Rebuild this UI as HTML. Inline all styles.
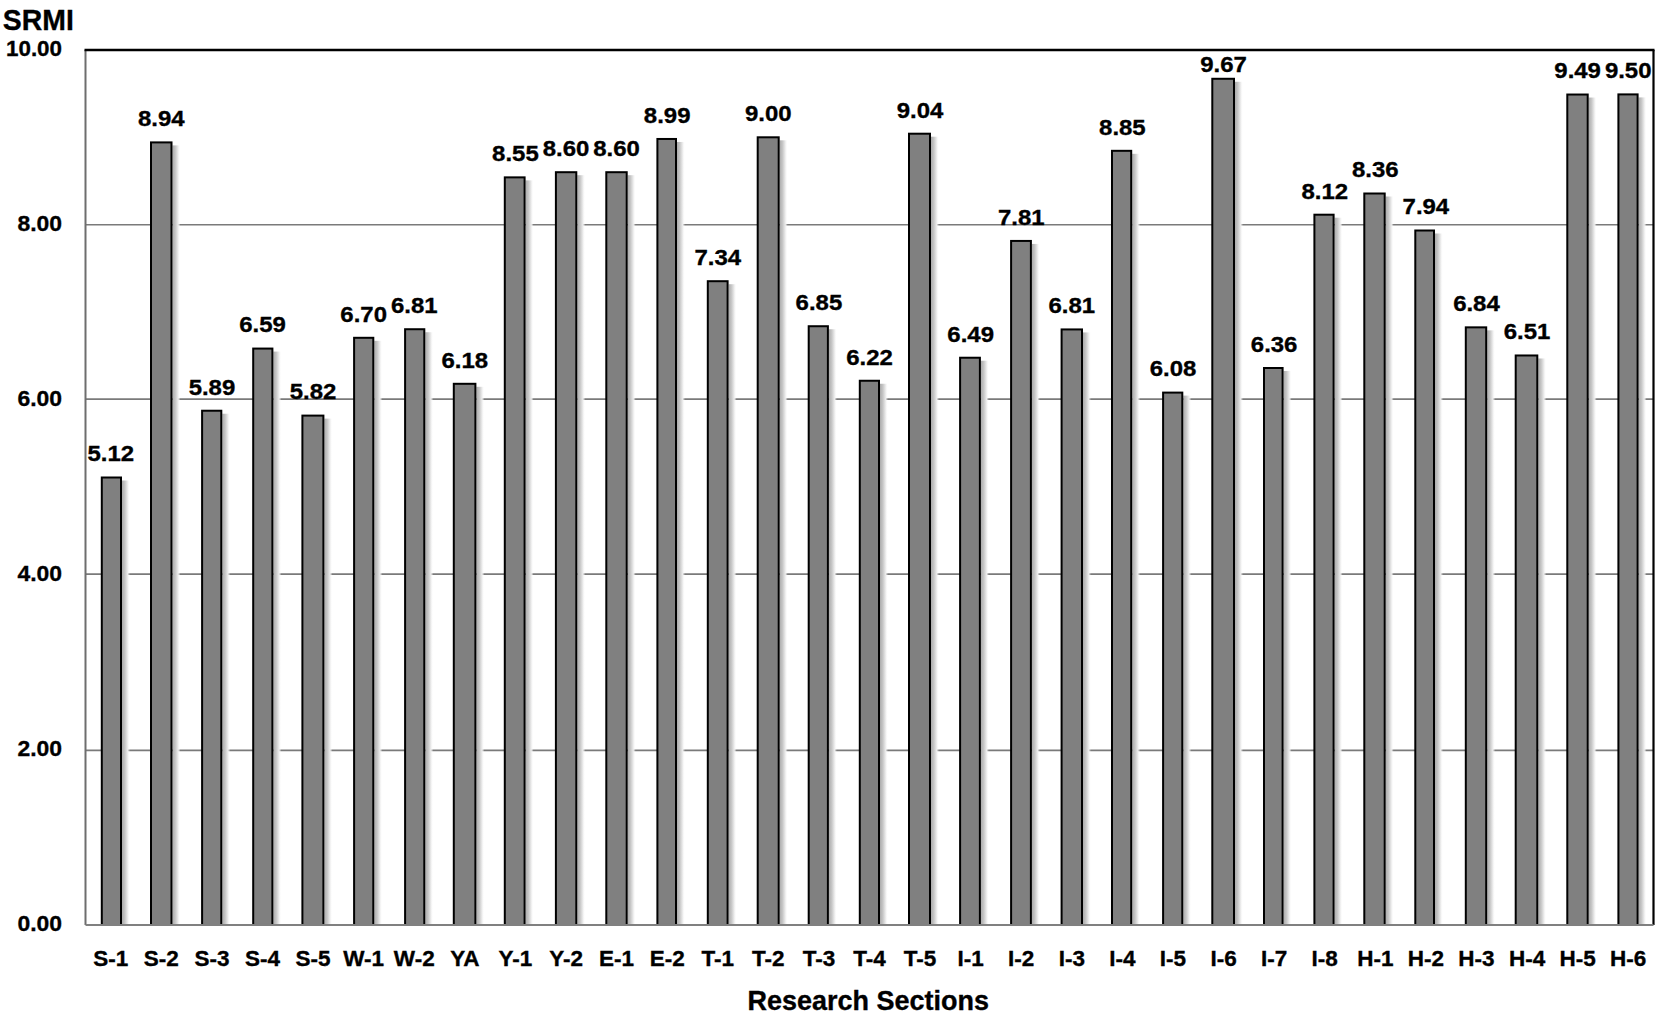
<!DOCTYPE html>
<html><head><meta charset="utf-8"><style>
html,body{margin:0;padding:0;background:#fff;}
svg{display:block;}
text{font-family:"Liberation Sans", sans-serif;font-weight:bold;fill:#000;stroke:#000;stroke-width:0.35px;}
</style></head><body>
<svg width="1665" height="1016" viewBox="0 0 1665 1016">
<defs>
<linearGradient id="sh" x1="0" x2="1" y1="0" y2="0">
<stop offset="0" stop-color="#acacac"/><stop offset="0.35" stop-color="#c6c6c6"/><stop offset="0.7" stop-color="#ececec"/><stop offset="1" stop-color="#fff" stop-opacity="0"/>
</linearGradient>
</defs>
<rect x="0" y="0" width="1665" height="1016" fill="#fff"/>

<line x1="85.5" y1="750.4" x2="1653.5" y2="750.4" stroke="#7a7a7a" stroke-width="1.6"/>
<line x1="85.5" y1="574.1" x2="1653.5" y2="574.1" stroke="#7a7a7a" stroke-width="1.6"/>
<line x1="85.5" y1="399.1" x2="1653.5" y2="399.1" stroke="#7a7a7a" stroke-width="1.6"/>
<line x1="85.5" y1="224.7" x2="1653.5" y2="224.7" stroke="#7a7a7a" stroke-width="1.6"/>
<line x1="85.5" y1="925.0" x2="85.5" y2="50.0" stroke="#6e6e6e" stroke-width="2"/>
<line x1="84.5" y1="50.0" x2="1654.5" y2="50.0" stroke="#000" stroke-width="2.5"/>
<line x1="1653.5" y1="50.0" x2="1653.5" y2="925.0" stroke="#000" stroke-width="2.2"/>
<rect x="122.00" y="480.50" width="8" height="444.50" fill="url(#sh)"/>
<rect x="101.80" y="477.50" width="19.20" height="447.50" fill="#808080" stroke="#000" stroke-width="2"/>
<text x="110.79" y="461.30" font-size="22.4" textLength="46.6" lengthAdjust="spacingAndGlyphs" text-anchor="middle">5.12</text>
<text x="110.79" y="966.00" font-size="22.5" text-anchor="middle">S-1</text>
<rect x="172.50" y="145.40" width="8" height="779.60" fill="url(#sh)"/>
<rect x="151.00" y="142.40" width="20.50" height="782.60" fill="#808080" stroke="#000" stroke-width="2"/>
<text x="161.37" y="126.20" font-size="22.4" textLength="46.6" lengthAdjust="spacingAndGlyphs" text-anchor="middle">8.94</text>
<text x="161.37" y="966.00" font-size="22.5" text-anchor="middle">S-2</text>
<rect x="222.30" y="413.73" width="8" height="511.27" fill="url(#sh)"/>
<rect x="202.10" y="410.73" width="19.20" height="514.27" fill="#808080" stroke="#000" stroke-width="2"/>
<text x="211.95" y="394.53" font-size="22.4" textLength="46.6" lengthAdjust="spacingAndGlyphs" text-anchor="middle">5.89</text>
<text x="211.95" y="966.00" font-size="22.5" text-anchor="middle">S-3</text>
<rect x="273.40" y="351.57" width="8" height="573.42" fill="url(#sh)"/>
<rect x="253.20" y="348.57" width="19.20" height="576.42" fill="#808080" stroke="#000" stroke-width="2"/>
<text x="262.53" y="332.38" font-size="22.4" textLength="46.6" lengthAdjust="spacingAndGlyphs" text-anchor="middle">6.59</text>
<text x="262.53" y="966.00" font-size="22.5" text-anchor="middle">S-4</text>
<rect x="324.40" y="418.60" width="8" height="506.40" fill="url(#sh)"/>
<rect x="302.40" y="415.60" width="21.00" height="509.40" fill="#808080" stroke="#000" stroke-width="2"/>
<text x="313.11" y="399.40" font-size="22.4" textLength="46.6" lengthAdjust="spacingAndGlyphs" text-anchor="middle">5.82</text>
<text x="313.11" y="966.00" font-size="22.5" text-anchor="middle">S-5</text>
<rect x="374.30" y="340.80" width="8" height="584.20" fill="url(#sh)"/>
<rect x="354.10" y="337.80" width="19.20" height="587.20" fill="#808080" stroke="#000" stroke-width="2"/>
<text x="363.69" y="321.60" font-size="22.4" textLength="46.6" lengthAdjust="spacingAndGlyphs" text-anchor="middle">6.70</text>
<text x="363.69" y="966.00" font-size="22.5" text-anchor="middle">W-1</text>
<rect x="425.30" y="332.23" width="8" height="592.77" fill="url(#sh)"/>
<rect x="405.10" y="329.23" width="19.20" height="595.77" fill="#808080" stroke="#000" stroke-width="2"/>
<text x="414.27" y="313.03" font-size="22.4" textLength="46.6" lengthAdjust="spacingAndGlyphs" text-anchor="middle">6.81</text>
<text x="414.27" y="966.00" font-size="22.5" text-anchor="middle">W-2</text>
<rect x="476.40" y="386.80" width="8" height="538.20" fill="url(#sh)"/>
<rect x="453.80" y="383.80" width="21.60" height="541.20" fill="#808080" stroke="#000" stroke-width="2"/>
<text x="464.85" y="367.60" font-size="22.4" textLength="46.6" lengthAdjust="spacingAndGlyphs" text-anchor="middle">6.18</text>
<text x="464.85" y="966.00" font-size="22.5" text-anchor="middle">YA</text>
<rect x="525.60" y="180.37" width="8" height="744.63" fill="url(#sh)"/>
<rect x="504.80" y="177.37" width="19.80" height="747.63" fill="#808080" stroke="#000" stroke-width="2"/>
<text x="515.44" y="161.17" font-size="22.4" textLength="46.6" lengthAdjust="spacingAndGlyphs" text-anchor="middle">8.55</text>
<text x="515.44" y="966.00" font-size="22.5" text-anchor="middle">Y-1</text>
<rect x="577.30" y="175.20" width="8" height="749.80" fill="url(#sh)"/>
<rect x="555.90" y="172.20" width="20.40" height="752.80" fill="#808080" stroke="#000" stroke-width="2"/>
<text x="566.02" y="156.00" font-size="22.4" textLength="46.6" lengthAdjust="spacingAndGlyphs" text-anchor="middle">8.60</text>
<text x="566.02" y="966.00" font-size="22.5" text-anchor="middle">Y-2</text>
<rect x="627.70" y="175.20" width="8" height="749.80" fill="url(#sh)"/>
<rect x="606.30" y="172.20" width="20.40" height="752.80" fill="#808080" stroke="#000" stroke-width="2"/>
<text x="616.60" y="156.00" font-size="22.4" textLength="46.6" lengthAdjust="spacingAndGlyphs" text-anchor="middle">8.60</text>
<text x="616.60" y="966.00" font-size="22.5" text-anchor="middle">E-1</text>
<rect x="677.00" y="141.97" width="8" height="783.02" fill="url(#sh)"/>
<rect x="657.40" y="138.97" width="18.60" height="786.02" fill="#808080" stroke="#000" stroke-width="2"/>
<text x="667.18" y="122.77" font-size="22.4" textLength="46.6" lengthAdjust="spacingAndGlyphs" text-anchor="middle">8.99</text>
<text x="667.18" y="966.00" font-size="22.5" text-anchor="middle">E-2</text>
<rect x="728.60" y="284.20" width="8" height="640.80" fill="url(#sh)"/>
<rect x="707.80" y="281.20" width="19.80" height="643.80" fill="#808080" stroke="#000" stroke-width="2"/>
<text x="717.76" y="265.00" font-size="22.4" textLength="46.6" lengthAdjust="spacingAndGlyphs" text-anchor="middle">7.34</text>
<text x="717.76" y="966.00" font-size="22.5" text-anchor="middle">T-1</text>
<rect x="779.70" y="140.30" width="8" height="784.70" fill="url(#sh)"/>
<rect x="757.70" y="137.30" width="21.00" height="787.70" fill="#808080" stroke="#000" stroke-width="2"/>
<text x="768.34" y="121.10" font-size="22.4" textLength="46.6" lengthAdjust="spacingAndGlyphs" text-anchor="middle">9.00</text>
<text x="768.34" y="966.00" font-size="22.5" text-anchor="middle">T-2</text>
<rect x="828.90" y="329.23" width="8" height="595.77" fill="url(#sh)"/>
<rect x="808.70" y="326.23" width="19.20" height="598.77" fill="#808080" stroke="#000" stroke-width="2"/>
<text x="818.92" y="310.03" font-size="22.4" textLength="46.6" lengthAdjust="spacingAndGlyphs" text-anchor="middle">6.85</text>
<text x="818.92" y="966.00" font-size="22.5" text-anchor="middle">T-3</text>
<rect x="880.00" y="383.75" width="8" height="541.25" fill="url(#sh)"/>
<rect x="859.80" y="380.75" width="19.20" height="544.25" fill="#808080" stroke="#000" stroke-width="2"/>
<text x="869.50" y="364.55" font-size="22.4" textLength="46.6" lengthAdjust="spacingAndGlyphs" text-anchor="middle">6.22</text>
<text x="869.50" y="966.00" font-size="22.5" text-anchor="middle">T-4</text>
<rect x="931.00" y="136.70" width="8" height="788.30" fill="url(#sh)"/>
<rect x="909.00" y="133.70" width="21.00" height="791.30" fill="#808080" stroke="#000" stroke-width="2"/>
<text x="920.08" y="117.50" font-size="22.4" textLength="46.6" lengthAdjust="spacingAndGlyphs" text-anchor="middle">9.04</text>
<text x="920.08" y="966.00" font-size="22.5" text-anchor="middle">T-5</text>
<rect x="980.90" y="360.73" width="8" height="564.27" fill="url(#sh)"/>
<rect x="960.10" y="357.73" width="19.80" height="567.27" fill="#808080" stroke="#000" stroke-width="2"/>
<text x="970.66" y="341.53" font-size="22.4" textLength="46.6" lengthAdjust="spacingAndGlyphs" text-anchor="middle">6.49</text>
<text x="970.66" y="966.00" font-size="22.5" text-anchor="middle">I-1</text>
<rect x="1031.90" y="243.93" width="8" height="681.08" fill="url(#sh)"/>
<rect x="1011.10" y="240.93" width="19.80" height="684.08" fill="#808080" stroke="#000" stroke-width="2"/>
<text x="1021.24" y="224.73" font-size="22.4" textLength="46.6" lengthAdjust="spacingAndGlyphs" text-anchor="middle">7.81</text>
<text x="1021.24" y="966.00" font-size="22.5" text-anchor="middle">I-2</text>
<rect x="1083.00" y="332.43" width="8" height="592.58" fill="url(#sh)"/>
<rect x="1061.60" y="329.43" width="20.40" height="595.58" fill="#808080" stroke="#000" stroke-width="2"/>
<text x="1071.82" y="313.23" font-size="22.4" textLength="46.6" lengthAdjust="spacingAndGlyphs" text-anchor="middle">6.81</text>
<text x="1071.82" y="966.00" font-size="22.5" text-anchor="middle">I-3</text>
<rect x="1132.20" y="153.82" width="8" height="771.17" fill="url(#sh)"/>
<rect x="1112.00" y="150.82" width="19.20" height="774.17" fill="#808080" stroke="#000" stroke-width="2"/>
<text x="1122.40" y="134.62" font-size="22.4" textLength="46.6" lengthAdjust="spacingAndGlyphs" text-anchor="middle">8.85</text>
<text x="1122.40" y="966.00" font-size="22.5" text-anchor="middle">I-4</text>
<rect x="1183.30" y="395.60" width="8" height="529.40" fill="url(#sh)"/>
<rect x="1163.10" y="392.60" width="19.20" height="532.40" fill="#808080" stroke="#000" stroke-width="2"/>
<text x="1172.98" y="376.40" font-size="22.4" textLength="46.6" lengthAdjust="spacingAndGlyphs" text-anchor="middle">6.08</text>
<text x="1172.98" y="966.00" font-size="22.5" text-anchor="middle">I-5</text>
<rect x="1235.00" y="81.78" width="8" height="843.23" fill="url(#sh)"/>
<rect x="1212.30" y="78.78" width="21.70" height="846.23" fill="#808080" stroke="#000" stroke-width="2"/>
<text x="1223.56" y="71.80" font-size="22.4" textLength="46.6" lengthAdjust="spacingAndGlyphs" text-anchor="middle">9.67</text>
<text x="1223.56" y="966.00" font-size="22.5" text-anchor="middle">I-6</text>
<rect x="1283.60" y="371.00" width="8" height="554.00" fill="url(#sh)"/>
<rect x="1264.00" y="368.00" width="18.60" height="557.00" fill="#808080" stroke="#000" stroke-width="2"/>
<text x="1274.15" y="351.80" font-size="22.4" textLength="46.6" lengthAdjust="spacingAndGlyphs" text-anchor="middle">6.36</text>
<text x="1274.15" y="966.00" font-size="22.5" text-anchor="middle">I-7</text>
<rect x="1334.60" y="217.70" width="8" height="707.30" fill="url(#sh)"/>
<rect x="1314.40" y="214.70" width="19.20" height="710.30" fill="#808080" stroke="#000" stroke-width="2"/>
<text x="1324.73" y="198.50" font-size="22.4" textLength="46.6" lengthAdjust="spacingAndGlyphs" text-anchor="middle">8.12</text>
<text x="1324.73" y="966.00" font-size="22.5" text-anchor="middle">I-8</text>
<rect x="1385.70" y="196.50" width="8" height="728.50" fill="url(#sh)"/>
<rect x="1364.30" y="193.50" width="20.40" height="731.50" fill="#808080" stroke="#000" stroke-width="2"/>
<text x="1375.31" y="177.30" font-size="22.4" textLength="46.6" lengthAdjust="spacingAndGlyphs" text-anchor="middle">8.36</text>
<text x="1375.31" y="966.00" font-size="22.5" text-anchor="middle">H-1</text>
<rect x="1435.00" y="233.50" width="8" height="691.50" fill="url(#sh)"/>
<rect x="1415.30" y="230.50" width="18.70" height="694.50" fill="#808080" stroke="#000" stroke-width="2"/>
<text x="1425.89" y="214.30" font-size="22.4" textLength="46.6" lengthAdjust="spacingAndGlyphs" text-anchor="middle">7.94</text>
<text x="1425.89" y="966.00" font-size="22.5" text-anchor="middle">H-2</text>
<rect x="1487.20" y="330.35" width="8" height="594.65" fill="url(#sh)"/>
<rect x="1465.80" y="327.35" width="20.40" height="597.65" fill="#808080" stroke="#000" stroke-width="2"/>
<text x="1476.47" y="311.15" font-size="22.4" textLength="46.6" lengthAdjust="spacingAndGlyphs" text-anchor="middle">6.84</text>
<text x="1476.47" y="966.00" font-size="22.5" text-anchor="middle">H-3</text>
<rect x="1538.30" y="358.48" width="8" height="566.52" fill="url(#sh)"/>
<rect x="1515.70" y="355.48" width="21.60" height="569.52" fill="#808080" stroke="#000" stroke-width="2"/>
<text x="1527.05" y="339.28" font-size="22.4" textLength="46.6" lengthAdjust="spacingAndGlyphs" text-anchor="middle">6.51</text>
<text x="1527.05" y="966.00" font-size="22.5" text-anchor="middle">H-4</text>
<rect x="1588.70" y="97.53" width="8" height="827.48" fill="url(#sh)"/>
<rect x="1567.30" y="94.53" width="20.40" height="830.48" fill="#808080" stroke="#000" stroke-width="2"/>
<text x="1577.63" y="78.33" font-size="22.4" textLength="46.6" lengthAdjust="spacingAndGlyphs" text-anchor="middle">9.49</text>
<text x="1577.63" y="966.00" font-size="22.5" text-anchor="middle">H-5</text>
<rect x="1638.60" y="97.40" width="8" height="827.60" fill="url(#sh)"/>
<rect x="1618.40" y="94.40" width="19.20" height="830.60" fill="#808080" stroke="#000" stroke-width="2"/>
<text x="1628.21" y="78.20" font-size="22.4" textLength="46.6" lengthAdjust="spacingAndGlyphs" text-anchor="middle">9.50</text>
<text x="1628.21" y="966.00" font-size="22.5" text-anchor="middle">H-6</text>
<line x1="85.5" y1="925.0" x2="1653.5" y2="925.0" stroke="#808080" stroke-width="2"/>
<text x="62" y="930.50" font-size="22.9" text-anchor="end">0.00</text>
<text x="62" y="755.50" font-size="22.9" text-anchor="end">2.00</text>
<text x="62" y="580.50" font-size="22.9" text-anchor="end">4.00</text>
<text x="62" y="405.50" font-size="22.9" text-anchor="end">6.00</text>
<text x="62" y="230.50" font-size="22.9" text-anchor="end">8.00</text>
<text x="62" y="55.50" font-size="22.9" textLength="56" lengthAdjust="spacingAndGlyphs" text-anchor="end">10.00</text>
<text x="2.8" y="29.6" font-size="29.6" textLength="71" lengthAdjust="spacingAndGlyphs">SRMI</text>
<text x="747.5" y="1009.5" font-size="27.6" textLength="241.5" lengthAdjust="spacingAndGlyphs">Research Sections</text>
</svg></body></html>
